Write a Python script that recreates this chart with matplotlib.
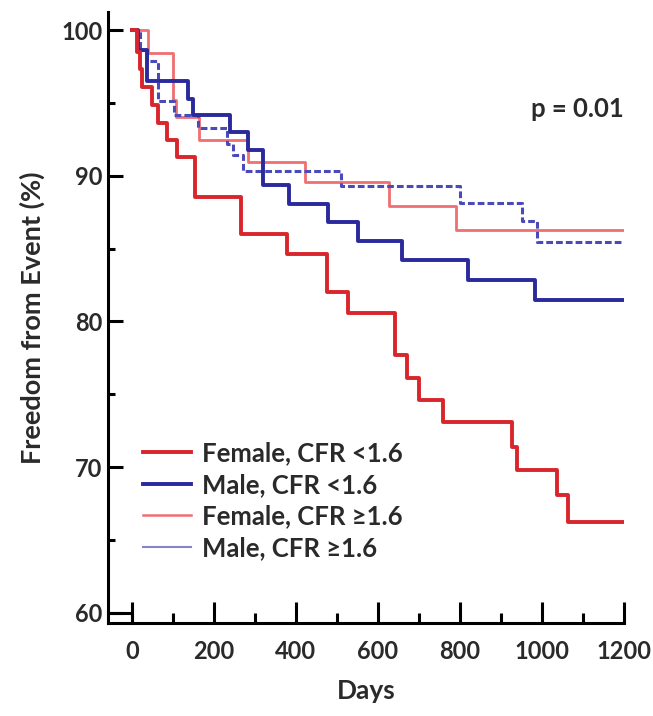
import numpy as np
import matplotlib
matplotlib.use('Agg')
import matplotlib.pyplot as plt
from matplotlib.lines import Line2D

plt.rcParams['font.family'] = ['Lato', 'DejaVu Sans']
plt.rcParams['font.weight'] = 'bold'

# Kaplan-Meier steps (day of drop, value after the drop)
female_low_days = [0, 11, 20, 24, 48, 63, 85, 109, 154, 266, 378, 476, 527, 641, 671, 700, 759, 927, 939, 1037, 1063, 1200]
female_low_vals = [100, 98.5, 97.3, 96.1, 94.85, 93.6, 92.45, 91.3, 88.55, 86.0, 84.65, 82.0, 80.6, 77.7, 76.1, 74.6, 73.1, 71.4, 69.8, 68.1, 66.2, 66.2]

male_low_days = [0, 15, 37, 137, 149, 239, 283, 320, 383, 478, 551, 659, 820, 983, 1200]
male_low_vals = [100, 98.6, 96.5, 95.3, 94.2, 93.0, 91.8, 89.4, 88.05, 86.8, 85.5, 84.2, 82.85, 81.5, 81.5]

female_high_days = [0, 39, 100, 108, 163, 283, 422, 627, 790, 1200]
female_high_vals = [100, 98.4, 95.2, 94.0, 92.45, 90.95, 89.6, 87.95, 86.25, 86.25]

male_high_days = [0, 20, 37, 63, 102, 161, 232, 246, 271, 510, 800, 951, 988, 1200]
male_high_vals = [100, 98.6, 97.9, 95.1, 94.2, 93.3, 92.2, 91.4, 90.3, 89.3, 88.1, 86.9, 85.45, 85.45]

legend_labels = ['Female, CFR <1.6', 'Male, CFR <1.6', 'Female, CFR \u22651.6', 'Male, CFR \u22651.6']
x_ticks = [0, 200, 400, 600, 800, 1000, 1200]
y_ticks = [60, 70, 80, 90, 100]

red = '#d8262c'
blue = '#2a2a9c'
light_red = '#ef6f72'
light_blue = '#4a4ab8'
txt = '#2a2a2a'

fig = plt.figure(figsize=(6.53, 7.16), dpi=100)
ax = fig.add_axes([0.1654, 0.1299, 0.7902, 0.8533])

xmin, xmax = -58.5, 1200
ymin, ymax = 59.3, 101.24

ax.step(female_high_days, female_high_vals, where='post', color=light_red, lw=2.0, zorder=2)
ax.step(male_high_days, male_high_vals, where='post', color=light_blue, lw=2.2,
        linestyle=(0, (2.2, 1.0)), zorder=2)
ax.step(male_low_days, male_low_vals, where='post', color=blue, lw=2.8, zorder=3)
ax.step(female_low_days, female_low_vals, where='post', color=red, lw=2.8, zorder=4)

ax.set_xlim(xmin, xmax)
ax.set_ylim(ymin, ymax)
for s in ['top', 'right']:
    ax.spines[s].set_visible(False)
for s in ['left', 'bottom']:
    ax.spines[s].set_linewidth(2.2)
    ax.spines[s].set_color('black')

ax.set_xticks(x_ticks)
ax.set_xticks([100, 300, 500, 700, 900, 1100], minor=True)
ax.set_yticks(y_ticks)
ax.set_yticks([65, 75, 85, 95], minor=True)
ax.tick_params(axis='x', which='major', direction='in', length=15, width=2.2, pad=12,
               labelsize=17, labelcolor=txt)
ax.tick_params(axis='x', which='minor', direction='in', length=7, width=2.2)
ax.tick_params(axis='y', which='major', direction='in', length=11, width=2.2, pad=4,
               labelsize=17, labelcolor=txt)
ax.tick_params(axis='y', which='minor', direction='in', length=5, width=2.2)

# bracket joining the 60 tick and the x axis
ax.plot([xmin, 0, 0], [60, 60, ymin], color='black', lw=2.2, clip_on=False, zorder=5)

ax.set_xlabel('Days', fontsize=19, fontweight='bold', color=txt, labelpad=12)
ax.set_ylabel('Freedom from Event (%)', fontsize=19.5, fontweight='bold', color=txt, labelpad=12)

ax.text(1200, 94.6, 'p = 0.01', ha='right', va='center', fontsize=18.5, fontweight='bold', color=txt)

handles = [Line2D([], [], color=red, lw=2.8),
           Line2D([], [], color=blue, lw=2.8),
           Line2D([], [], color=light_red, lw=1.8),
           Line2D([], [], color='#8585cc', lw=1.5)]
leg = ax.legend(handles, legend_labels, loc='upper left', bbox_to_anchor=(143 / 653, 1 - 441 / 716),
                bbox_transform=fig.transFigure, frameon=False, fontsize=18.5, handlelength=1.85,
                handletextpad=0.45, labelspacing=0.3, borderpad=0, borderaxespad=0)
for t in leg.get_texts():
    t.set_color(txt)
    t.set_fontweight('bold')

fig.savefig('out.png', dpi=100)
